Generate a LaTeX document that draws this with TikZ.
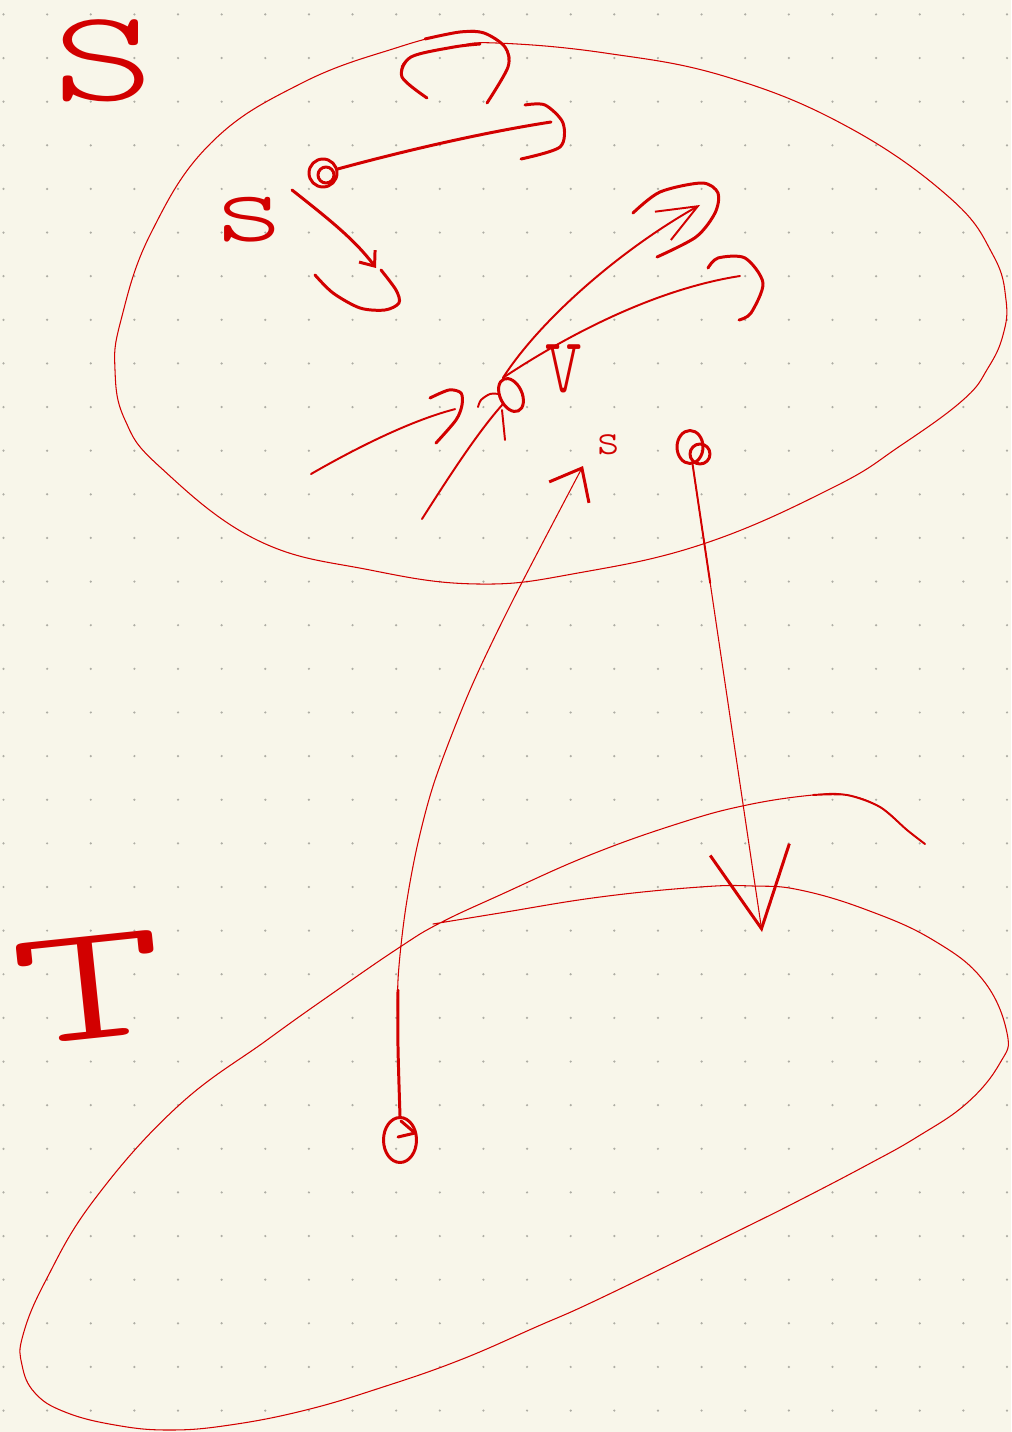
\documentclass[tikz,border=0pt]{standalone}
\usepackage{fontspec}
\usetikzlibrary{arrows.meta, positioning, shapes.geometric, calc}
\newfontfamily\sketchfont{lmmonolt10-regular.otf}
\definecolor{ink}{HTML}{D20000}
\definecolor{paper}{HTML}{F8F6EA}
\definecolor{dotgrey}{HTML}{AEADA4}

\begin{document}
\begin{tikzpicture}[x=0.02cm, y=-0.02cm, >={Straight Barb[length=2.5mm, width=4mm]},
    pen/.style={draw=ink, line width=1.7pt, line cap=round, line join=round},
    midpen/.style={draw=ink, line width=1.1pt, line cap=round, line join=round},
    hairline/.style={draw=ink, line width=0.6pt, line cap=round},
    vertex/.style={pen, inner sep=0pt},
    letter/.style={text=ink, inner sep=0pt}]
    \fill[paper] (0,0) rectangle (1011,1432);
    \useasboundingbox (0,0) rectangle (1011,1432);
    \foreach \i in {0,...,23}
        \foreach \j in {0,...,32}
            \fill[dotgrey] (3.5+43.63*\i, 14.4+43.63*\j) circle[radius=0.7pt];

    \draw[hairline] plot[smooth, tension=0.7] coordinates {(427,98) (402,77) (411,57) (454,47) (496,43) (605,53) (727,77) (848,127) (950,198) (993,255) (1006,300) (1003,335) (988,368) (963,400) (900,446) (834,487) (706,543) (578,573) (478,584) (370,570) (257,540) (160,467) (125,420) (115,370) (121,320) (151,233) (211,143) (302,83) (399,47) (460,32) (484,33) (505,47) (508,67) (487,103)};
    \draw[pen] plot[smooth] coordinates {(427,98) (402,77) (411,57) (454,47) (480,44)};
    \draw[pen] plot[smooth] coordinates {(425,39) (460,32) (484,33) (505,47) (508,67) (487,103)};
    \draw[hairline] plot[smooth, tension=0.7] coordinates {(925,844) (907,830) (880,807) (847,795) (813,795) (747,805) (680,823) (590,855) (500,895) (440,923) (400,947) (333,993) (267,1040) (177,1107) (94,1200) (46,1280) (23,1335) (22,1365) (35,1393) (65,1412) (115,1425) (169,1430) (230,1425) (306,1410) (383,1387) (460,1360) (536,1327) (601,1298) (740,1230) (800,1200) (867,1165) (917,1137) (967,1103) (1000,1063) (1007,1033) (983,980) (933,940) (867,910) (800,890) (753,886) (700,887) (600,897) (500,913) (433,924)};
    \draw[midpen] plot[smooth] coordinates {(813,795) (847,795) (880,807) (907,830) (925,844)};

    \node[vertex, circle, minimum size=0.56cm] (s) at (323,173) {};
    \node[vertex, ellipse, minimum width=0.44cm, minimum height=0.7cm, rotate=25] (v) at (511,395) {};
    \node[vertex, ellipse, minimum width=0.52cm, minimum height=0.66cm] (u) at (690,447) {};
    \node[vertex, ellipse, minimum width=0.66cm, minimum height=0.9cm] (w) at (400,1140) {};

    \coordinate (sR) at (551,122);
    \coordinate (sOut) at (292,190);
    \coordinate (sD) at (376,268);
    \coordinate (vA) at (700,205);
    \coordinate (vB) at (740,276);
    \coordinate (inA) at (311,474);
    \coordinate (inB) at (422,519);
    \coordinate (sTip) at (583,466);
    \coordinate (uT) at (762,932);

    \node[letter, font=\sketchfont\fontsize{74}{74}\selectfont] (setS) at (104,61) {\scalebox{1.5}[1]{S}};
    \node[letter, font=\sketchfont\fontsize{58}{58}\selectfont, below left=0.26cm and 0.55cm of s] (sName) {\scalebox{1.3}[1]{s}};
    \node[letter, font=\sketchfont\fontsize{64}{64}\selectfont] (vName) at (564,369) {\scalebox{0.65}[1]{v}};
    \node[letter, font=\sketchfont\fontsize{26}{26}\selectfont, above right=0.22cm and 0.26cm of sTip] (sTipName) {s};
    \node[letter, font=\sketchfont\fontsize{95}{95}\selectfont, rotate=6] (setT) at (89,988) {\scalebox{1.75}[1]{T}};

    \draw[pen] ($(s)+(3,2)$) circle[radius=0.16cm];
    \draw[pen] (s) .. controls (400,152) and (480,133) .. (sR);
    \draw[pen] plot[smooth] coordinates {(525,105) (545,105) (563,123) (560,147) (521,159)};
    \draw[pen, ->] (sOut) .. controls (330,220) and (355,240) .. (sD);
    \draw[pen] plot[smooth] coordinates {(315,275) (333,293) (360,308) (385,310) (399,303) (396,290) (381,270)};

    \draw[midpen, -{Straight Barb[length=0.8cm, width=0.65cm]}] (v.north) .. controls (540,320) and (620,250) .. (vA);
    \draw[pen] plot[smooth] coordinates {(633,213) (660,192) (702,183) (718,193) (715,213) (696,237) (657,257)};
    \draw[midpen] (v.north) .. controls (560,340) and (650,290) .. (vB);
    \draw[pen] plot[smooth] coordinates {(708,268) (718,258) (745,258) (763,283) (751,313) (739,320)};
    \draw[midpen, shorten >=0.9cm] (inA) .. controls (370,440) and (420,418) .. (v);
    \draw[pen] plot[smooth] coordinates {(430,398) (449,390) (461,393) (462,405) (456,420) (436,443)};
    \draw[midpen] (inB) .. controls (450,475) and (478,432) .. (v);
    \draw[midpen] plot[smooth] coordinates {(478,407) (481,400) (490,394) (499,394)};
    \draw[midpen] (502,410) -- (505,440);

    \draw[hairline, -{Straight Barb[length=0.55cm, width=0.9cm, line width=1.7pt]}] plot[smooth] coordinates {(w.north) (398,1047) (398,980) (405,913) (417,847) (435,780) (470,690) (513,600) (583,466)};
    \draw[pen] plot[smooth] coordinates {(w.north) (398,1047) (398,990)};
    \draw[pen] (398,1137) -- (415,1133) -- (401,1121);

    \draw[pen] ($(u)+(10,7)$) circle[radius=0.2cm];
    \draw[hairline, -{Straight Barb[length=1.6cm, width=1.6cm, line width=1.7pt]}] (u) -- (uT);
    \draw[midpen] (u) -- ($(u)!0.28!(uT)$);
\end{tikzpicture}
\end{document}
